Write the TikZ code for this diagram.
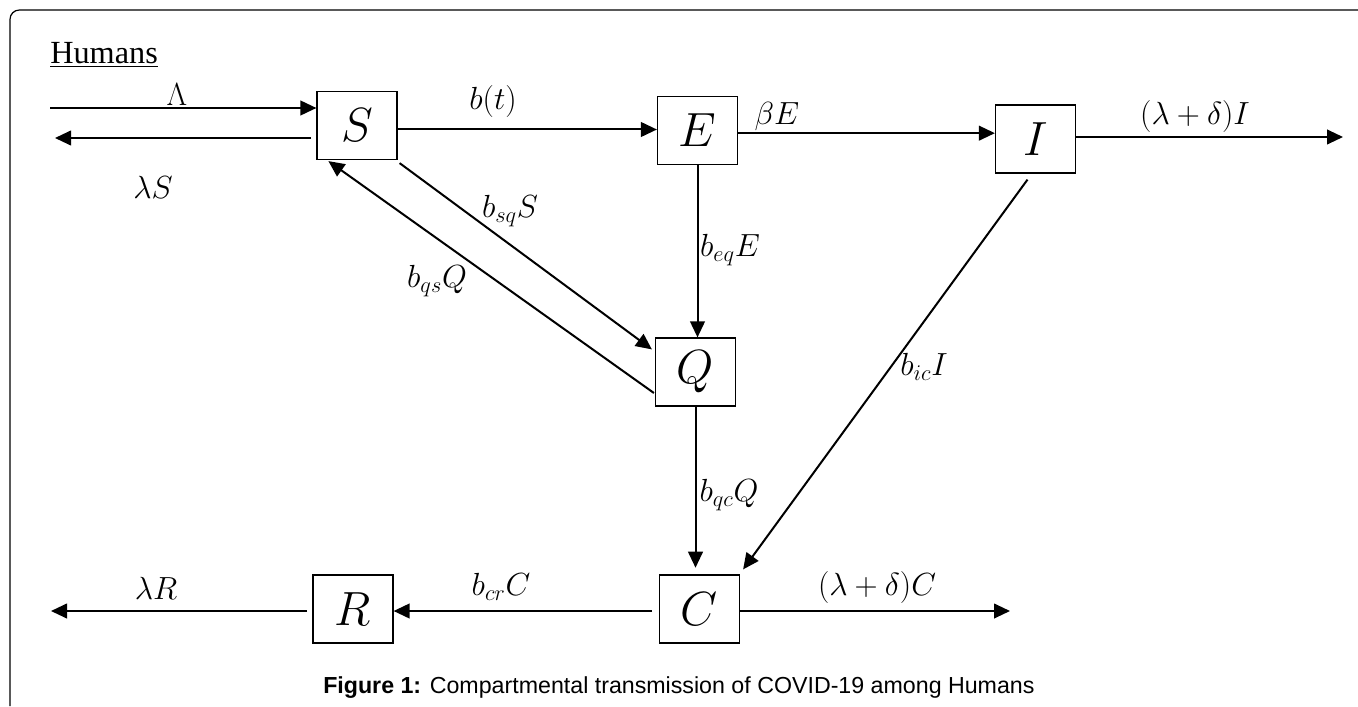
\RequirePackage{fix-cm}
\documentclass[tikz,border=0pt]{standalone}
\usepackage{fontspec}
\setmainfont{Liberation Serif}
\newfontfamily\capfont{Liberation Sans}
\usetikzlibrary{arrows.meta}

\begin{document}
\begin{tikzpicture}[
  x=0.75pt, y=-0.75pt,
  comp/.style = {draw=black, line width=0.9pt, inner sep=0pt,
                 minimum width=60pt, minimum height=51pt,
                 font=\fontsize{36}{42}\selectfont},
  arr/.style  = {-{Triangle[length=12pt,width=11pt]}, line width=1.5pt},
  rate/.style = {inner sep=0pt, font=\fontsize{24}{28}\selectfont},
]
\useasboundingbox (0,0) rectangle (1358,706);

% ---------- frame ----------
\draw[line width=0.9pt, rounded corners=7pt] (10,706) -- (10,10) -- (1358,10);

\node[anchor=base west, inner sep=0pt, font=\fontsize{24.2}{29}\selectfont] (title) at (50,64)
  {\underline{Humans}};

% ---------- compartments ----------
\node[comp] (S) at (357,125.5) {$S$};
\node[comp] (E) at (697.5,130.5) {$E$};
\node[comp] (I) at (1035.5,139) {$I$};
\node[comp] (Q) at (695.5,372) {$Q$};
\node[comp] (C) at (699.5,609) {$C$};
\node[comp] (R) at (353,609) {$R$};

% ---------- free ends ----------
\coordinate (lamIn) at (50,108);
\coordinate (lamOut) at (55,138);
\coordinate (iOut) at (1343,137);
\coordinate (cOut) at (1010,611);
\coordinate (rOut) at (51,611);

% ---------- arrows ----------
\draw[arr] (lamIn) -- (lamIn -| S.west);
\draw[arr, shorten <=4pt] (lamOut -| S.west) -- (lamOut);
\draw[arr] ([yshift=-3pt]S.east) -- ([yshift=-3pt]S.east -| E.west);
\draw[arr] ([yshift=-2pt]E.east) -- ([yshift=-2pt]E.east -| I.west);
\draw[arr] ([yshift=1.5pt]I.east) -- ([yshift=1.5pt]I.east -| iOut);
\draw[arr] (E.south) -- (E.south |- Q.north);
\draw[arr] ([shift={(2,3)}]S.south east) -- ([shift={(-3,12)}]Q.north west);
\draw[arr] ([shift={(-1,21)}]Q.west) -- ([shift={(12,1)}]S.south west);
\draw[arr, shorten >=5pt] (Q.south) -- (Q.south |- C.north);
\draw[arr] ([shift={(-8,6)}]I.south) -- ([shift={(3,-5)}]C.north east);
\draw[arr, shorten <=5pt] ([yshift=-1.5pt]C.west) -- ([yshift=-1.5pt]C.west -| R.east);
\draw[arr, shorten <=4pt] ([yshift=-1.5pt]R.west) -- ([yshift=-1.5pt]R.west -| rOut);
\draw[arr] ([yshift=-1.5pt]C.east) -- ([yshift=-1.5pt]C.east -| cOut);

% ---------- rates ----------
\node[rate] (lLam) at (177,95) {$\Lambda$};
\node[rate] (lLamS) at (153,187) {$\lambda S$};
\node[rate] (lBt) at (493,102) {$b(t)$};
\node[rate] (lBetaE) at (777,117) {$\beta E$};
\node[rate] (lOutI) at (1195,117) {$(\lambda+\delta)I$};
\node[rate] (lBeq) at (730,250) {$b_{eq}E$};
\node[rate] (lBsq) at (510,211) {$b_{sq}S$};
\node[rate] (lBqs) at (437,281) {$b_{qs}Q$};
\node[rate] (lBqc) at (729,495) {$b_{qc}Q$};
\node[rate] (lBic) at (924,367) {$b_{ic}I$};
\node[rate] (lOutC) at (877,587) {$(\lambda+\delta)C$};
\node[rate] (lBcr) at (501,587) {$b_{cr}C$};
\node[rate] (lLamR) at (156,588) {$\lambda R$};

% ---------- caption ----------
\node[anchor=base west, inner sep=0pt, font=\capfont\fontsize{17.4}{21}\selectfont] (cap) at (323,693)
  {\textbf{Figure 1:} Compartmental transmission of COVID-19 among Humans};

\end{tikzpicture}
\end{document}
